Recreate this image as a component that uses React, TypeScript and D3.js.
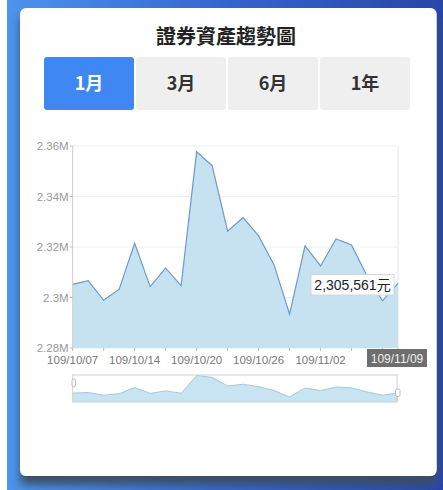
import React from "react";
import * as d3 from "d3";

const dates = [
  "109/10/07", "109/10/08", "109/10/12", "109/10/13", "109/10/14", "109/10/15",
  "109/10/16", "109/10/19", "109/10/20", "109/10/21", "109/10/22", "109/10/23",
  "109/10/26", "109/10/27", "109/10/28", "109/10/29", "109/11/02", "109/11/03",
  "109/11/04", "109/11/05", "109/11/06", "109/11/09",
];
const values = [
  2305200, 2306700, 2298900, 2303300, 2321500, 2304300, 2311600, 2304700,
  2357700, 2352200, 2326300, 2331600, 2324400, 2312900, 2293400, 2320400,
  2312500, 2323200, 2320800, 2308500, 2298700, 2305561,
];
const yTicks = [2280000, 2300000, 2320000, 2340000, 2360000];
const yTickLabels = ["2.28M", "2.3M", "2.32M", "2.34M", "2.36M"];
const labelIdx = [0, 4, 8, 12, 16];
const tabs = ["1月", "3月", "6月", "1年"];
const title = "證券資產趨勢圖";

const FONT = "'Liberation Sans', Arial, 'Noto Sans CJK TC', sans-serif";
const CJK = "'Noto Sans CJK TC', 'Liberation Sans', sans-serif";

export default function App() {
  const W = 443, H = 490;
  const left = 72.7, right = 398, top = 146, bottom = 348;
  const x = d3.scaleLinear().domain([0, dates.length - 1]).range([left, right]);
  const y = d3.scaleLinear().domain([2280000, 2360000]).range([bottom, top]);
  const area = d3.area<number>().x((_, i) => x(i)).y0(bottom).y1((d) => y(d));
  const line = d3.line<number>().x((_, i) => x(i)).y((d) => y(d));

  const mTop = 375, mBot = 402;
  const ym = d3.scaleLinear().domain([d3.min(values)!, d3.max(values)!]).range([397, 375.5]);
  const mArea = d3.area<number>().x((_, i) => x(i)).y0(mBot).y1((d) => ym(d));
  const mLine = d3.line<number>().x((_, i) => x(i)).y((d) => ym(d));

  const last = values.length - 1;
  const fmt = d3.format(",");

  return (
    <svg width={W} height={H} style={{ position: "absolute", left: 0, top: 0 }}>
      <defs>
        <linearGradient id="bg" x1="0" x2="1" y1="0" y2="0">
          <stop offset="0" stopColor="#4c94ec" />
          <stop offset="0.5" stopColor="#3565d0" />
          <stop offset="1" stopColor="#2846a6" />
        </linearGradient>
        <filter id="sh" x="-10%" y="-10%" width="120%" height="130%">
          <feDropShadow dx="0" dy="9" stdDeviation="4" floodColor="#3d4e62" floodOpacity="0.95" />
        </filter>
      </defs>
      <rect x={7} y={0} width={W - 7} height={H} fill="url(#bg)" />
      <rect x={20} y={8} width={416.7} height={468} rx={6} fill="#ffffff" filter="url(#sh)" />

      <text x={226} y={44} textAnchor="middle" fontFamily={CJK} fontWeight="bold" fontSize={20} fill="#222">
        {title}
      </text>

      {tabs.map((t, i) => {
        const bx = 44 + i * 92;
        const active = i === 0;
        return (
          <g key={t}>
            <rect x={bx} y={57} width={90} height={53} rx={3} fill={active ? "#3f87f2" : "#efefef"} />
            <text x={bx + 45} y={90} textAnchor="middle" fontFamily={CJK} fontWeight="bold" fontSize={18} fill={active ? "#ffffff" : "#333"}>
              {t}
            </text>
          </g>
        );
      })}

      {yTicks.map((t) => (
        <line key={t} x1={left} x2={right} y1={y(t)} y2={y(t)} stroke="#eeeeee" strokeWidth={1} />
      ))}
      <line x1={right} x2={right} y1={top} y2={bottom} stroke="#e6e6e6" />

      <path d={area(values)!} fill="#c6e2f1" />
      <path d={line(values)!} fill="none" stroke="#6b9acb" strokeWidth={1.2} />

      <line x1={left} x2={left} y1={top} y2={bottom} stroke="#cccccc" />
      {yTicks.map((t, i) => (
        <g key={"yl" + t}>
          <line x1={left - 3} x2={left} y1={y(t)} y2={y(t)} stroke="#bbbbbb" />
          <text x={left - 4} y={y(t) + 4} textAnchor="end" fontFamily={FONT} fontSize={11.5} fill="#999">
            {yTickLabels[i]}
          </text>
        </g>
      ))}

      {dates.map((d, i) =>
        i % 2 === 0 || i === last ? (
          <line key={"xt" + i} x1={x(i)} x2={x(i)} y1={bottom} y2={bottom + 3} stroke="#bbbbbb" />
        ) : null
      )}
      {labelIdx.map((i) => (
        <text key={"xl" + i} x={x(i)} y={364} textAnchor="middle" fontFamily={FONT} fontSize={11.5} fill="#777">
          {dates[i]}
        </text>
      ))}

      <rect x={367} y={349} width={60} height={18} fill="#6e6e6e" />
      <text x={397} y={362.5} textAnchor="middle" fontFamily={FONT} fontSize={12} fill="#eeeeee">
        {dates[last]}
      </text>

      <rect x={311} y={274.5} width={83} height={20.5} fill="rgba(255,255,255,0.92)" stroke="#d6d6d6" strokeWidth={1} />
      <text x={352.5} y={290} textAnchor="middle" fontFamily={FONT} fontSize={14} fill="#222">
        {fmt(values[last]) + "元"}
      </text>

      <path d={mArea(values)!} fill="#c8e3f1" />
      <path d={mLine(values)!} fill="none" stroke="#a8c7de" strokeWidth={1} />
      <rect x={left} y={mTop} width={right - left - 1} height={mBot - mTop} fill="none" stroke="#cfcfcf" />
      <rect x={72} y={379} width={3.5} height={7.5} rx={1.5} fill="#fff" stroke="#aaaaaa" strokeWidth={0.8} />
      <rect x={395.5} y={389} width={4.5} height={7.5} rx={1.5} fill="#fff" stroke="#aaaaaa" strokeWidth={0.8} />
    </svg>
  );
}
